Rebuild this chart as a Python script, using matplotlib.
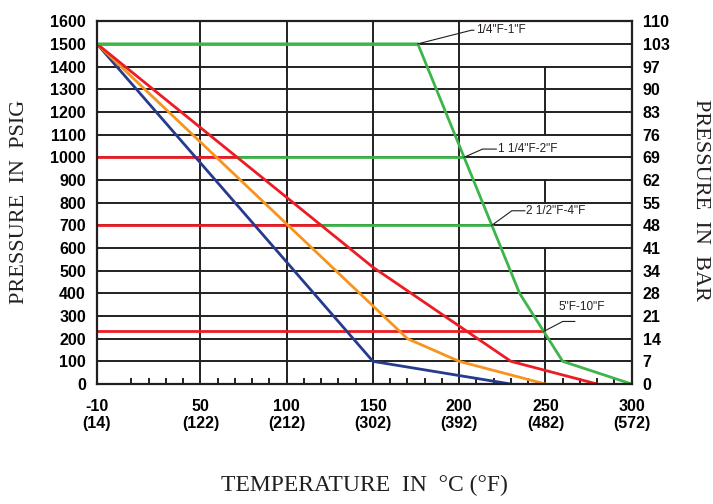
import numpy as np
import matplotlib
matplotlib.use("Agg")
import matplotlib.pyplot as plt

# pressure / temperature rating curves (psig vs deg C)
blue_t = [-10, 150, 230]
blue_p = [1500, 100, 0]
orange_t = [-10, 170, 200, 250]
orange_p = [1500, 200, 100, 0]
red_t = [-10, 150, 230, 280]
red_p = [1500, 515, 100, 0]
green_t = [-10, 176, 235, 260, 300]
green_p = [1500, 1500, 400, 100, 0]

# horizontal size limits
levels = [1500, 1000, 700, 232]
level_style = ['green', 'split', 'split', 'red']
size_labels = ['1/4"F-1"F', '1 1/4"F-2"F', '2 1/2"F-4"F', '5"F-10"F']

x_ticks = [-10, 50, 100, 150, 200, 250, 300]
x_labels = ['-10\n(14)', '50\n(122)', '100\n(212)', '150\n(302)',
            '200\n(392)', '250\n(482)', '300\n(572)']
psi_ticks = list(range(0, 1700, 100))
bar_labels = ['0', '7', '14', '21', '28', '34', '41', '48', '55', '62',
              '69', '76', '83', '90', '97', '103', '110']

c_blue = '#263a8e'
c_orange = '#f7941d'
c_red = '#ec1c24'
c_green = '#3db54a'
c_grid = '#231f20'

fig = plt.figure(figsize=(7.13, 5.04), dpi=100)
ax = fig.add_axes([0.136, 0.238, 0.750, 0.720])
ax.set_xlim(-10, 300)
ax.set_ylim(0, 1600)

# grid
for p in psi_ticks[1:]:
    ax.axhline(p, color=c_grid, lw=1.4, zorder=1)
for t in [50, 100, 150, 200]:
    ax.axvline(t, color=c_grid, lw=1.4, zorder=1)
for lo, hi in [(1100, 1400), (800, 900), (0, 600)]:
    ax.plot([250, 250], [lo, hi], color=c_grid, lw=1.4, zorder=1)

lw = 2.0
ax.plot(blue_t, blue_p, color=c_blue, lw=lw, zorder=3)
ax.plot(orange_t, orange_p, color=c_orange, lw=lw, zorder=3)
ax.plot(red_t, red_p, color=c_red, lw=lw, zorder=3)
ax.plot(green_t, green_p, color=c_green, lw=lw, zorder=3)

# level lines, ending on the green curve
for lev, sty in zip(levels, level_style):
    t_end = np.interp(lev, green_p[::-1], green_t[::-1])
    if lev == green_p[0]:
        t_end = green_t[1]
    if sty == 'green':
        ax.plot([-10, t_end], [lev, lev], color=c_green, lw=lw, zorder=2)
    elif sty == 'red':
        ax.plot([-10, t_end], [lev, lev], color=c_red, lw=lw, zorder=2)
    else:
        t_red = np.interp(lev, red_p[::-1], red_t[::-1])
        ax.plot([-10, t_red], [lev, lev], color=c_red, lw=lw, zorder=2)
        ax.plot([t_red, t_end], [lev, lev], color=c_green, lw=lw, zorder=2)

# leader lines + labels (knee x, knee y, stub end x)
leaders = [(207, 1560, 208.5), (213.5, 1036, 221.5), (230.5, 764, 238), (260, 276, 267)]
for i, lev in enumerate(levels):
    t0 = np.interp(lev, green_p[::-1], green_t[::-1])
    if lev == green_p[0]:
        t0 = green_t[1]
    kx, ky, sx = leaders[i]
    ax.plot([t0, kx, sx], [lev, ky, ky], color='#231f20', lw=0.8, zorder=4)
    if i < 3:
        ax.text(sx + 1, ky, size_labels[i], ha='left', va='center',
                fontsize=8.5, family='Liberation Sans', color='#231f20')
    else:
        ax.text(271, 338, size_labels[i], ha='center', va='center',
                fontsize=8.5, family='Liberation Sans', color='#231f20')

for s in ax.spines.values():
    s.set_color(c_grid)
    s.set_linewidth(1.6)
    s.set_zorder(5)

ax.set_xticks(x_ticks)
ax.set_xticklabels(x_labels, fontsize=11.5, fontweight='bold',
                   family='Liberation Sans', linespacing=1.1)
ax.set_xticks([t for t in range(0, 300, 10) if t % 50 != 0], minor=True)
ax.tick_params(axis='x', which='major', length=0, pad=11)
ax.tick_params(axis='x', which='minor', direction='in', length=4, width=1.4,
               color=c_grid)
ax.set_yticks(psi_ticks)
ax.set_yticklabels([str(p) for p in psi_ticks], fontsize=11.5,
                   fontweight='bold', family='Liberation Sans')
ax.tick_params(axis='y', length=0, pad=8)

ax2 = ax.twinx()
ax2.set_ylim(0, 1600)
ax2.set_yticks(psi_ticks)
ax2.set_yticklabels(bar_labels, fontsize=11.5, fontweight='bold',
                    family='Liberation Sans')
ax2.tick_params(axis='y', length=0, pad=8)
for s in ax2.spines.values():
    s.set_visible(False)

fig.text(0.028, 0.600, 'PRESSURE  IN  PSIG', rotation=90, ha='center',
         va='center', fontsize=16, family='Liberation Serif', color='#231f20')
fig.text(0.983, 0.603, 'PRESSURE  IN  BAR', rotation=-90, ha='center',
         va='center', fontsize=16, family='Liberation Serif', color='#231f20')
fig.text(0.511, 0.036, 'TEMPERATURE  IN  °C (°F)', ha='center',
         va='center', fontsize=17, family='Liberation Serif', color='#231f20')

fig.savefig('out.png', dpi=100)
